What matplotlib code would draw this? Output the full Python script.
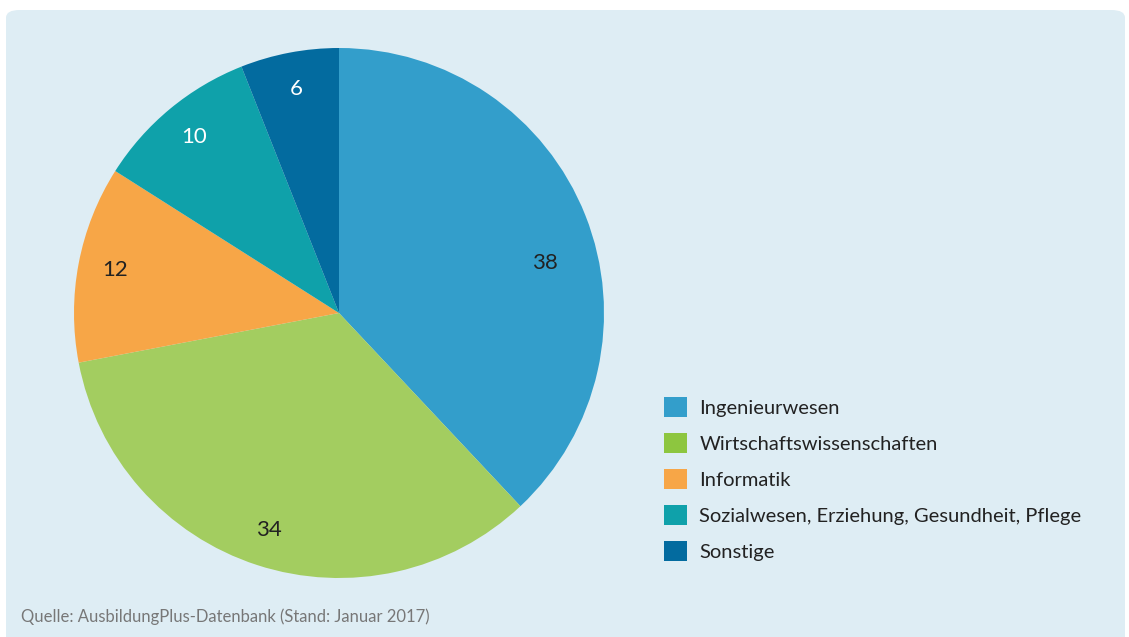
import matplotlib
matplotlib.use("Agg")
import matplotlib.pyplot as plt
import numpy as np
from matplotlib.patches import FancyBboxPatch, Patch

plt.rcParams['font.family'] = ['Lato', 'DejaVu Sans']

# data
categories = ["Ingenieurwesen", "Wirtschaftswissenschaften", "Informatik",
              "Sozialwesen, Erziehung, Gesundheit, Pflege", "Sonstige"]
values = [38, 34, 12, 10, 6]
pie_colors = ["#339ecb", "#a3cd60", "#f7a647", "#0fa1aa", "#036b9f"]
legend_colors = ["#339ecb", "#8dc63f", "#f7a647", "#0fa1aa", "#036b9f"]
label_colors = ["#222222", "#222222", "#222222", "white", "white"]
source = "Quelle: AusbildungPlus-Datenbank (Stand: Januar 2017)"

W, H = 1129, 637
fig = plt.figure(figsize=(W / 100, H / 100), dpi=100)
fig.patch.set_facecolor("white")

# light blue panel with rounded corners
panel = FancyBboxPatch((6 / W, -0.05), 1119 / W, (H - 10) / H + 0.05,
                       boxstyle="round,pad=0,rounding_size=0.012",
                       transform=fig.transFigure, facecolor="#deedf4",
                       edgecolor="none", zorder=-5)
fig.patches.append(panel)

# pie axes: centre (339, 313) px, radius 265 px
cx, cy, r = 339, 313, 265
ax = fig.add_axes([(cx - r) / W, (H - cy - r) / H, 2 * r / W, 2 * r / H])
ax.set_facecolor("none")
wedges, texts, autotexts = ax.pie(values, colors=pie_colors, startangle=90,
                                  counterclock=False, radius=1,
                                  autopct=lambda p: "%d" % round(p),
                                  pctdistance=0.86,
                                  wedgeprops=dict(linewidth=0))
for t, c in zip(autotexts, label_colors):
    t.set_color(c)
    t.set_fontsize(16)
# the big slice's label sits a bit lower than mid-angle in the original
w0 = wedges[0]
a = np.deg2rad((w0.theta1 + w0.theta2) / 2 - 8)
autotexts[0].set_position((0.8 * np.cos(a), 0.8 * np.sin(a)))
ax.set_xlim(-1, 1)
ax.set_ylim(-1, 1)
ax.axis("off")

handles = [Patch(facecolor=c, edgecolor="none") for c in legend_colors]
fig.legend(handles, categories, loc="center left",
           bbox_to_anchor=(664 / W, 1 - 479 / H), frameon=False,
           fontsize=14.5, handlelength=1.15, handleheight=1.15,
           handletextpad=0.6, labelspacing=0.8, borderpad=0,
           borderaxespad=0, labelcolor="#222222")

fig.text(21 / W, 1 - 617 / H, source, fontsize=12, color="#777777",
         va="center", ha="left")

fig.savefig("out.png", dpi=100, facecolor="white")
